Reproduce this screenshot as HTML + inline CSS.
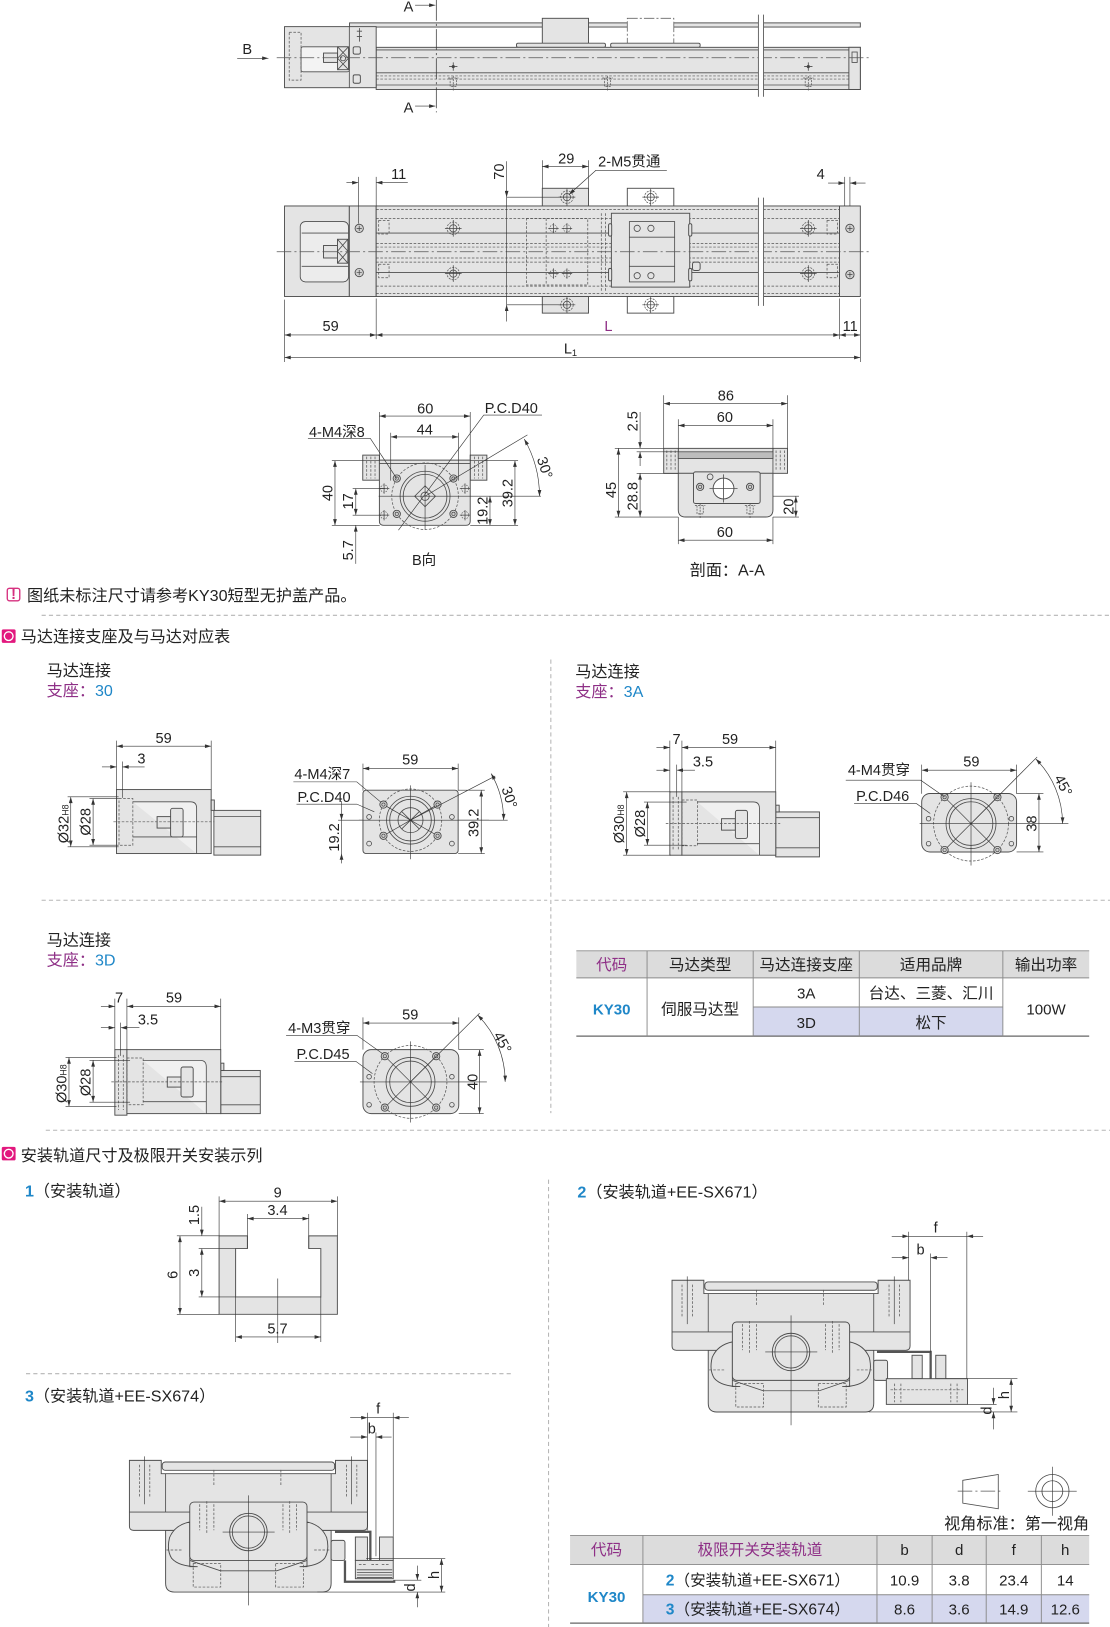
<!DOCTYPE html>
<html><head><meta charset="utf-8">
<style>
html,body{margin:0;padding:0;background:#fff}
svg{display:block}
text{font-family:"Liberation Sans","Noto Sans CJK SC",sans-serif;fill:#222;font-size:14px}
.cn{font-size:15.5px}
.pu{fill:#8e2f86}
.bl{fill:#1f87c8}
.b{font-weight:bold}
.g{fill:#e4e4e4;stroke:#4d4d4d;stroke-width:.9}
.w{fill:#fff;stroke:#4d4d4d;stroke-width:.9}
.n{fill:none;stroke:#4d4d4d;stroke-width:.8}
.ds{fill:none;stroke:#555;stroke-width:.7;stroke-dasharray:2.5 1.5}
.cl{fill:none;stroke:#555;stroke-width:.7;stroke-dasharray:14 3 2 3}
.dm{fill:none;stroke:#333;stroke-width:.6}
.da{fill:none;stroke:#333;stroke-width:.6;marker-start:url(#a);marker-end:url(#a)}
.de{fill:none;stroke:#333;stroke-width:.6;marker-end:url(#a)}
.sep{stroke:#b5b5b5;stroke-width:1;stroke-dasharray:4 3;fill:none}
</style></head><body>
<svg width="1110" height="1627" viewBox="0 0 1067 1564" preserveAspectRatio="none" xmlns="http://www.w3.org/2000/svg">
<defs>
<marker id="a" viewBox="0 0 10 6" refX="10" refY="3" markerWidth="8" markerHeight="3.6" orient="auto-start-reverse" markerUnits="userSpaceOnUse"><path d="M0,0L10,3L0,6z" fill="#333"/></marker>
<g id="ch"><circle r="6" fill="none" stroke="#555" stroke-width=".7" stroke-dasharray="2 1"/><circle r="3.5" fill="none" stroke="#444" stroke-width=".7"/><path d="M-8,0H8M0,-8V8" stroke="#444" stroke-width=".7"/></g>
<g id="sh"><circle r="3.5" fill="#cfcfcf" stroke="#444" stroke-width=".8"/><circle r="1.6" fill="none" stroke="#444" stroke-width=".6"/></g>
<g id="pm"><circle r="3.5" fill="none" stroke="#555" stroke-width=".6" stroke-dasharray="1.5 1"/><path d="M-5,0H5M0,-5V5" stroke="#444" stroke-width=".7"/></g>
<g id="tn"><path d="M-5,0H5M-3,0V8H3V0M0,-2V12" fill="none" stroke="#555" stroke-width=".7" stroke-dasharray="2 1"/></g>
<g id="sc"><circle r="4" fill="#d0d0d0" stroke="#444" stroke-width=".8"/><path d="M-2.5,0H2.5M0,-2.5V2.5" stroke="#444" stroke-width=".7"/></g>
</defs>

<!-- ================= VIEW 1 (side) ================= -->
<rect class="g" x="336" y="22" width="491" height="4"/>
<rect class="g" x="521.3" y="17.6" width="44.4" height="25.7"/>
<rect x="603" y="17.6" width="44.7" height="25.7" fill="#fff" stroke="#666" stroke-width=".8" stroke-dasharray="10 2 2 2"/>
<rect class="g" x="496.5" y="41.5" width="85.5" height="4" rx="1.5"/>
<rect class="g" x="587" y="41.5" width="86" height="4" rx="1.5"/>
<rect class="g" x="361.6" y="45.5" width="465.4" height="40.5"/>
<path class="n" d="M361.6,48H827M361.6,70H827M361.6,81.7H827"/>
<path class="ds" d="M361.6,73H827M361.6,76H827"/>
<rect class="g" x="273.5" y="25.6" width="88.1" height="58.7"/>
<path class="n" d="M335.8,25.6V84.3"/>
<rect class="ds" x="278" y="31" width="11.4" height="46"/>
<rect x="289.4" y="45" width="46.4" height="24" fill="#f3f3f3" stroke="#4d4d4d" stroke-width=".8" rx="2"/>
<rect class="g" x="311" y="51" width="13.5" height="9"/>
<rect class="g" x="324.5" y="45" width="10.5" height="22"/>
<path class="n" d="M324.5,45L335,56M335,45L324.5,56M324.5,56L335,67M335,56L324.5,67"/>
<circle class="n" cx="329.7" cy="56" r="2.5"/>
<rect class="g" x="339.5" y="45" width="6.9" height="7" rx="1.5"/>
<rect class="g" x="339.5" y="72" width="6.9" height="8" rx="1.5"/>
<path class="n" d="M345.5,27V40M343,30H348M343,35H348"/>
<rect class="g" x="816" y="45.5" width="11" height="40.5"/>
<rect class="n" x="819" y="50" width="5" height="10"/>
<path class="cl" d="M266,55.5H836"/>
<path class="n" d="M431.7,64H439.7M435.7,60V68M773,64H781M777,60V68"/>
<circle cx="435.7" cy="64" r="1.5" fill="#444"/><circle cx="777" cy="64" r="1.5" fill="#444"/>
<use href="#tn" x="435.7" y="75"/><use href="#tn" x="584" y="75"/><use href="#tn" x="777" y="75"/>
<rect x="729" y="14" width="5" height="79" fill="#fff"/>
<path class="n" d="M729,14V93M734,14V93"/>
<path d="M419.4,0V108" stroke="#333" stroke-width=".7" stroke-dasharray="20 3 2 3" fill="none"/>
<text x="388" y="11">A</text><path class="de" d="M399,5H418.5"/>
<text x="388" y="108">A</text><path class="de" d="M399,102H418.5"/>
<text x="233" y="52">B</text><path class="de" d="M228,56H258"/>

<!-- ================= VIEW 2 (top) ================= -->
<rect class="g" x="521.3" y="181" width="44.4" height="17"/>
<rect class="g" x="521.3" y="285" width="44.4" height="16"/>
<rect class="w" x="603" y="181" width="44.7" height="17"/>
<rect class="w" x="603" y="285" width="44.7" height="16"/>
<use href="#ch" x="545" y="189.5"/><use href="#ch" x="545" y="293"/>
<use href="#ch" x="625.5" y="189.5"/><use href="#ch" x="625.5" y="293"/>
<rect class="g" x="273.5" y="198" width="62.3" height="87"/>
<rect class="g" x="335.8" y="198" width="25.8" height="87"/>
<rect x="288.6" y="213" width="46.4" height="58" rx="5" fill="#ececec" stroke="#4d4d4d" stroke-width=".8"/>
<path class="n" d="M290,224H335M290,256H335"/>
<rect class="g" x="311" y="236" width="13.4" height="12"/>
<rect class="g" x="324.4" y="230" width="10" height="23"/>
<path class="n" d="M324.4,230L334.4,241.5M334.4,230L324.4,241.5M324.4,241.5L334.4,253M334.4,241.5L324.4,253"/>
<use href="#sc" x="345.3" y="219.5"/><use href="#sc" x="345.3" y="262"/>
<rect class="g" x="361.6" y="198" width="445.4" height="87"/>
<rect class="g" x="807" y="198" width="20" height="87"/>
<use href="#sc" x="817" y="219.5"/><use href="#sc" x="817" y="264"/>
<path class="ds" d="M361.6,201.5H807M361.6,210H807M361.6,234H807M361.6,237.5H807M361.6,248H807M361.6,252H807M361.6,275H807M361.6,282H807"/>
<path class="n" d="M361.6,224H807M361.6,262H807"/>
<rect class="ds" x="364" y="212" width="10" height="13"/><rect class="ds" x="364" y="254" width="10" height="13"/>
<rect class="ds" x="795" y="212" width="10" height="13"/><rect class="ds" x="795" y="254" width="10" height="13"/>
<rect class="ds" x="506" y="210" width="59" height="64"/>
<path class="ds" d="M578,205V280M582,205V280M525,210V274"/>
<use href="#pm" x="532" y="219.5"/><use href="#pm" x="532" y="263"/><use href="#pm" x="545" y="263"/><use href="#pm" x="545" y="219.5"/>
<rect class="g" x="587.7" y="205" width="75.3" height="71"/>
<rect class="n" x="605" y="213" width="43.5" height="58"/>
<path class="n" d="M605,228H648.5M605,256H648.5"/>
<circle class="n" cx="612.5" cy="219.5" r="3"/><circle class="n" cx="625.7" cy="219.5" r="3"/>
<circle class="n" cx="612.5" cy="265" r="3"/><circle class="n" cx="625.7" cy="265" r="3"/>
<rect class="g" x="665.7" y="252" width="7.3" height="8" rx="2"/>
<rect class="g" x="585" y="215" width="3" height="12" rx="1.5"/><rect class="g" x="585" y="258" width="3" height="12" rx="1.5"/>
<rect class="g" x="662" y="215" width="3" height="12" rx="1.5"/><rect class="g" x="662" y="258" width="3" height="12" rx="1.5"/>
<use href="#ch" x="435.7" y="219.5"/><use href="#ch" x="435.7" y="263"/>
<use href="#ch" x="777" y="219.5"/><use href="#ch" x="777" y="263"/>
<path class="cl" d="M266,242H836"/>
<rect x="729" y="190" width="5" height="104" fill="#fff"/>
<path class="n" d="M729,190V294M734,190V294"/>
<!-- dims view 2 -->
<path class="dm" d="M344.5,170V215M361.6,170V198"/>
<path class="de" d="M333,175.6H344.5"/><path class="de" d="M392,175.6H361.6"/>
<text x="376" y="172">11</text>
<path class="dm" d="M521.3,154V181M565.7,154V181"/>
<path class="da" d="M521.3,160H565.7"/>
<text x="536.5" y="157">29</text>
<text x="575" y="160">2-M5贯通</text>
<path class="dm" d="M572,164H641"/>
<path class="de" d="M572.5,164L547,187"/>
<path class="dm" d="M487,189.5H545M487,293H545M487,189.5V293"/>
<path class="de" d="M487,155V189.5"/><path class="de" d="M487,309V293"/>
<text transform="translate(484.5,165) rotate(-90)" text-anchor="middle">70</text>
<path class="dm" d="M812,170V198M817,170V198"/>
<path class="de" d="M796,176H812"/><path class="de" d="M832,176H817"/>
<text x="785" y="172">4</text>
<path class="dm" d="M273.5,288V348M361.6,287V326M807,287V326M827,287V348"/>
<path class="da" d="M273.5,322H361.6"/>
<text x="310" y="318">59</text>
<path class="da" d="M361.6,322H807"/>
<text x="581" y="318" class="pu">L</text>
<path class="da" d="M807,322H827"/>
<text x="810" y="318">11</text>
<path class="da" d="M273.5,343.6H827"/>
<text x="542" y="340">L<tspan font-size="9" dy="2">1</tspan></text>

<!-- ================= B view ================= -->
<rect class="g" x="348.7" y="437.5" width="16" height="24.1"/>
<path class="ds" d="M352.5,439V460M356.5,439V460M360.5,439V460"/>
<rect class="g" x="452" y="437.5" width="16" height="24.1"/>
<path class="ds" d="M456,439V460M460,439V460M464,439V460"/>
<path class="g" d="M364.7,442.3H452V501Q452,505 448,505H368.7Q364.7,505 364.7,501Z"/>
<path class="n" d="M364.7,445.5H452"/>
<circle class="ds" cx="408.6" cy="477" r="32"/>
<circle class="n" cx="408.6" cy="477" r="24"/>
<circle class="n" cx="408.6" cy="477" r="21"/>
<path class="n" d="M408.6,467L418.6,477L408.6,487L398.6,477Z"/>
<circle class="n" cx="408.6" cy="477" r="4"/>
<path class="dm" d="M364,477H520M408.6,447V509"/>
<use href="#sh" x="381.4" y="460"/><use href="#sh" x="435.9" y="460"/>
<use href="#sh" x="381.4" y="494"/><use href="#sh" x="435.9" y="494"/>
<use href="#pm" x="369.2" y="469.6"/><use href="#pm" x="447" y="469.6"/>
<use href="#pm" x="369.2" y="495.2"/><use href="#pm" x="447" y="495.2"/>
<path class="dm" d="M364.7,396V442M452,396V442M375.6,416V462M440.7,416V462"/>
<path class="da" d="M364.7,400H452"/><text x="401" y="397.5">60</text>
<path class="da" d="M375.6,420H440.7"/><text x="400.5" y="417.5">44</text>
<text x="297" y="420">4-M4深8</text>
<path class="dm" d="M296,421.5H356L381.4,460"/>
<text x="466" y="397">P.C.D40</text>
<path class="dm" d="M521,399H465L383,509.6"/>
<path class="dm" d="M319,442.8H365M319,505H365M339,469.6H370M339,495.2H370"/>
<path class="da" d="M322,442.8V505"/>
<text transform="translate(319.5,474) rotate(-90)" text-anchor="middle">40</text>
<path class="da" d="M342,469.6V495.2"/>
<text transform="translate(339.5,482) rotate(-90)" text-anchor="middle">17</text>
<path class="de" d="M342,542V505"/>
<text transform="translate(339.5,529) rotate(-90)" text-anchor="middle">5.7</text>
<path class="dm" d="M452,505H498"/>
<path class="da" d="M471,477V505"/>
<text transform="translate(468.5,491) rotate(-90)" text-anchor="middle">19.2</text>
<path class="dm" d="M452,442.8H498"/>
<path class="da" d="M495,442.8V505"/>
<text transform="translate(492.5,474) rotate(-90)" text-anchor="middle">39.2</text>
<path class="dm" d="M408.6,477L507,418"/>
<path class="da" d="M503.9,422A110,110 0 0 1 518.6,477"/>
<text transform="translate(516,441) rotate(72)">30°</text>
<text x="396" y="543">B向</text>

<!-- ================= A-A section ================= -->
<rect class="g" x="638" y="431" width="119" height="24"/>
<path class="ds" d="M641,433V453M645,433V453M649,433V453M746,433V453M750,433V453M754,433V453"/>
<path class="n" d="M652,431V455M743,431V455"/>
<rect x="652" y="434.3" width="91" height="6.5" fill="#bdbdbd" stroke="#4d4d4d" stroke-width=".8"/>
<path class="g" d="M652,455H743V490Q743,497 736,497H659Q652,497 652,490Z"/>
<rect class="g" x="666.6" y="453.6" width="64.1" height="30.4" rx="2"/>
<circle class="w" cx="695.5" cy="469.6" r="10"/>
<path class="n" d="M695.5,456V483M682,469.6H709"/>
<use href="#sh" x="673" y="468"/><use href="#sh" x="721" y="468"/>
<circle class="n" cx="682.6" cy="458.4" r="2.8"/>
<use href="#tn" x="673" y="486"/><use href="#tn" x="721" y="486"/>
<path class="dm" d="M638,380V431M757,380V431M652,403V434M743,403V434"/>
<path class="da" d="M638,388H757"/><text x="690" y="385">86</text>
<path class="da" d="M652,409H743"/><text x="689" y="405.5">60</text>
<path class="dm" d="M591,431H638M612,434.3H652M591,497H652M612,455H652M743,477H768M743,497H768"/>
<path class="de" d="M615.3,396V431"/><path class="de" d="M615.3,448V434.3"/>
<text transform="translate(613,405) rotate(-90)" text-anchor="middle">2.5</text>
<path class="da" d="M594.5,431V497"/>
<text transform="translate(592,471) rotate(-90)" text-anchor="middle">45</text>
<path class="da" d="M615.3,455V497"/>
<text transform="translate(613,477) rotate(-90)" text-anchor="middle">28.8</text>
<path class="da" d="M765,477V497"/>
<text transform="translate(763,487) rotate(-90)" text-anchor="middle">20</text>
<path class="dm" d="M652,497V523M743,497V523"/>
<path class="da" d="M652,519.3H743"/><text x="689" y="516">60</text>
<text x="663" y="553" class="cn">剖面：A-A</text>

<!-- note -->
<rect x="7" y="565.5" width="12" height="12" rx="2" fill="#fff" stroke="#d6307f" stroke-width="1.3"/>
<text x="13" y="576" text-anchor="middle" font-size="10" font-weight="bold" style="fill:#d6307f">!</text>
<text x="26" y="577.5" style="font-size:15.5px">图纸未标注尺寸请参考KY30短型无护盖产品。</text>
<path class="sep" d="M40,591.5H1067"/>

<!-- section header 1 -->
<rect x="1.7" y="605" width="13.3" height="13" rx="1.5" fill="#e2187e"/>
<circle cx="8.35" cy="611.5" r="4.2" fill="none" stroke="#fff" stroke-width="1.3"/>
<text x="20" y="617" class="cn">马达连接支座及与马达对应表</text>
<path class="sep" d="M529.5,634V1070"/>

<text x="44.8" y="650" class="cn">马达连接</text>
<text x="44.8" y="669" class="cn"><tspan class="pu">支座：</tspan><tspan class="bl">30</tspan></text>
<text x="553" y="651" class="cn">马达连接</text>
<text x="553" y="670" class="cn"><tspan class="pu">支座：</tspan><tspan class="bl">3A</tspan></text>

<!-- support 30 side -->
<rect class="g" x="205.6" y="779" width="45" height="43"/>
<path class="n" d="M205.6,785H250.6M205.6,814H250.6"/>
<rect class="g" x="112" y="759" width="91" height="61.5"/>
<rect class="ds" x="114.4" y="767.6" width="13.3" height="44.9"/>
<path d="M127.7,770.8H183Q189,770.8 189,776.8V820.5M189,804.5H127.7Z" fill="#f0f0f0" stroke="#4d4d4d" stroke-width=".8"/>
<rect class="g" x="151" y="785" width="15" height="11"/>
<rect class="g" x="164" y="777" width="12" height="27.5" rx="2"/>
<rect class="g" x="203" y="769" width="3" height="10"/>
<path class="ds" d="M109,790H206"/>
<path class="dm" d="M112,712V759M203,712V759M117.7,732V767"/>
<path class="da" d="M112,717.3H203"/><text x="149.5" y="714">59</text>
<path class="de" d="M98,737.2H112"/><path class="de" d="M139,737.2H117.7"/><text x="132" y="734">3</text>
<path class="dm" d="M65,766H114M65,814H114M86,767.6H114M86,812.5H114"/>
<path class="da" d="M68,766V814"/>
<text transform="translate(66,792) rotate(-90)" text-anchor="middle">Ø32<tspan font-size="8.5">H8</tspan></text>
<path class="da" d="M89.5,767.6V812.5"/>
<text transform="translate(87,790) rotate(-90)" text-anchor="middle">Ø28</text>

<!-- support 30 face -->
<rect class="g" x="348.9" y="759.6" width="91.5" height="60.9" rx="3"/>
<circle class="ds" cx="394.6" cy="788.4" r="30"/>
<circle class="n" cx="394.6" cy="788.4" r="23"/>
<circle class="n" cx="394.6" cy="788.4" r="20"/>
<circle class="n" cx="394.6" cy="788.4" r="12"/>
<path class="n" d="M386,780L403.2,797M403.2,780L386,797"/>
<path class="dm" d="M345,788.4H470M394.6,755V826M368.6,773.4L420.6,803.4M420.6,773.4L368.6,803.4"/>
<use href="#sh" x="368.6" y="773.4"/><use href="#sh" x="420.6" y="773.4"/>
<use href="#sh" x="368.6" y="803.4"/><use href="#sh" x="420.6" y="803.4"/>
<circle class="n" cx="354.8" cy="785.3" r="2.3"/><circle class="n" cx="434.4" cy="785.3" r="2.3"/>
<circle class="n" cx="354.8" cy="810.9" r="2.3"/><circle class="n" cx="434.4" cy="810.9" r="2.3"/>
<path class="dm" d="M348.9,734V760M440.4,734V760"/>
<path class="da" d="M348.9,738.8H440.4"/><text x="386.6" y="735">59</text>
<text x="283" y="749">4-M4深7</text>
<path class="dm" d="M282,751.6H343L366,771"/>
<text x="286" y="771">P.C.D40</text>
<path class="dm" d="M285,773H343L359.8,780.4"/>
<path class="dm" d="M325,788.4H349M440.4,759.6H466M440.4,820.5H466"/>
<path class="de" d="M328.3,770V788.4"/><path class="de" d="M328.3,830V820.5"/><path class="dm" d="M328.3,788.4V820.5"/>
<text transform="translate(326,805) rotate(-90)" text-anchor="middle">19.2</text>
<path class="da" d="M462.6,759.6V820.5"/>
<text transform="translate(460,791) rotate(-90)" text-anchor="middle">39.2</text>
<path class="dm" d="M394.6,788.4L476,746M440.4,788.4H488"/>
<path class="da" d="M472.1,743.6A89.5,89.5 0 0 1 484.1,788.4"/>
<text transform="translate(482,758) rotate(72)">30°</text>

<!-- support 3A side -->
<rect class="g" x="745.7" y="780.5" width="42" height="43.2"/>
<path class="n" d="M745.7,786H787.7M745.7,815H787.7"/>
<rect class="g" x="745.7" y="774" width="3.3" height="6.5"/>
<rect class="g" x="643.9" y="761.2" width="11.6" height="60.9"/>
<rect class="g" x="655.5" y="761.2" width="90.2" height="60.9"/>
<path class="ds" d="M647,766V818M652,766V818"/>
<rect class="ds" x="655.5" y="769" width="14.9" height="44"/>
<path d="M670.4,770.9H724Q730,770.9 730,776.9V822.1M730,811H670.4Z" fill="#f0f0f0" stroke="#4d4d4d" stroke-width=".8"/>
<rect class="g" x="693.6" y="787" width="13.3" height="11"/>
<rect class="g" x="706.9" y="779" width="11.6" height="27" rx="2"/>
<path class="ds" d="M640,791.7H750"/>
<path class="dm" d="M643.9,712V761M655.5,712V761M745.7,712V761M650.5,735V766"/>
<path class="de" d="M631,718.6H643.9"/><path class="da" d="M655.5,718.6H745.7"/>
<text x="646.5" y="715">7</text><text x="694" y="715">59</text>
<path class="de" d="M631,740.4H643.9"/><path class="de" d="M668,740.4H650.5"/>
<text x="666" y="737">3.5</text>
<path class="dm" d="M599,761.2H645M599,822.1H645M619,771H660M619,812.5H660"/>
<path class="da" d="M602.4,761.2V822.1"/>
<text transform="translate(600,792) rotate(-90)" text-anchor="middle">Ø30<tspan font-size="8.5">H8</tspan></text>
<path class="da" d="M622.3,771V812.5"/>
<text transform="translate(620,791.7) rotate(-90)" text-anchor="middle">Ø28</text>

<!-- support 3A face -->
<rect class="g" x="886" y="762.8" width="91.2" height="56.2" rx="8"/>
<circle class="ds" cx="933.4" cy="791.7" r="36"/>
<circle class="n" cx="933.4" cy="791.7" r="24"/>
<circle class="n" cx="933.4" cy="791.7" r="21"/>
<path class="dm" d="M908,766.3L958.8,817.1M958.8,766.3L908,817.1M884,791.7H1027M933.4,752V832"/>
<use href="#sh" x="908" y="766.3"/><use href="#sh" x="958.8" y="766.3"/>
<use href="#sh" x="908" y="817.1"/><use href="#sh" x="958.8" y="817.1"/>
<circle class="n" cx="892.6" cy="787" r="2.2"/><circle class="n" cx="972.2" cy="787" r="2.2"/>
<circle class="n" cx="892.6" cy="811" r="2.2"/><circle class="n" cx="972.2" cy="811" r="2.2"/>
<path class="dm" d="M886,735V763M977.2,735V763"/>
<path class="da" d="M886,740.4H977.2"/><text x="926" y="737">59</text>
<text x="815" y="745">4-M4贯穿</text>
<path class="dm" d="M813,750H885L908,766"/>
<text x="823" y="770">P.C.D46</text>
<path class="dm" d="M821,772.5H881L894.2,782"/>
<path class="dm" d="M977.2,762.8H1003M977.2,819H1003"/>
<path class="da" d="M998.7,762.8V819"/>
<text transform="translate(996.5,791.7) rotate(-90)" text-anchor="middle">38</text>
<path class="dm" d="M933.4,791.7L997,727.6"/>
<path class="da" d="M995.6,729.5A88,88 0 0 1 1021.4,791.7"/>
<text transform="translate(1013,748) rotate(62)">45°</text>

<path class="sep" d="M40,865.4H526M533,865.4H1067"/>

<!-- support 3D -->
<text x="44.8" y="909" class="cn">马达连接</text>
<text x="44.8" y="928" class="cn"><tspan class="pu">支座：</tspan><tspan class="bl">3D</tspan></text>
<rect class="g" x="212.2" y="1029" width="38" height="41.5"/>
<path class="n" d="M212.2,1035H250.2M212.2,1062H250.2"/>
<rect class="g" x="212.2" y="1022" width="3" height="7"/>
<rect class="g" x="110.4" y="1009" width="11.6" height="63"/>
<rect class="g" x="122" y="1009" width="90.2" height="61.5"/>
<path class="ds" d="M114,1014V1067M118.5,1014V1067"/>
<rect class="ds" x="122" y="1017" width="15.6" height="45"/>
<path d="M137.6,1019.3H192.3Q198.3,1019.3 198.3,1025.3V1070.5M198.3,1059H137.6Z" fill="#f0f0f0" stroke="#4d4d4d" stroke-width=".8"/>
<rect class="g" x="160.8" y="1035.3" width="13.2" height="9.7"/>
<rect class="g" x="174" y="1025.7" width="11.7" height="28.8" rx="2"/>
<path class="ds" d="M107,1040H215"/>
<path class="dm" d="M110.4,960V1009M122,960V1009M212.2,960V1009M116,983V1015"/>
<path class="de" d="M97,967.4H110.4"/><path class="da" d="M122,967.4H212.2"/>
<text x="110.5" y="963.5">7</text><text x="159.5" y="963.5">59</text>
<path class="de" d="M97,987.9H110.4"/><path class="de" d="M134,987.9H116"/>
<text x="132.5" y="984.6">3.5</text>
<path class="dm" d="M63,1016.5H112M63,1063.5H112M86,1019.3H125M86,1059.5H125"/>
<path class="da" d="M66.3,1016.5V1063.5"/>
<text transform="translate(64,1041.7) rotate(-90)" text-anchor="middle">Ø30<tspan font-size="8.5">H8</tspan></text>
<path class="da" d="M89.5,1019.3V1059.5"/>
<text transform="translate(87,1040.5) rotate(-90)" text-anchor="middle">Ø28</text>

<rect class="g" x="348.9" y="1009" width="92.1" height="61.5" rx="8"/>
<circle class="ds" cx="394.6" cy="1040" r="35"/>
<circle class="n" cx="394.6" cy="1040" r="23.5"/>
<circle class="n" cx="394.6" cy="1040" r="20"/>
<path class="dm" d="M369.9,1015.3L419.3,1064.7M419.3,1015.3L369.9,1064.7M346,1040H468M394.6,1001V1079"/>
<use href="#sh" x="369.9" y="1015.3"/><use href="#sh" x="419.3" y="1015.3"/>
<use href="#sh" x="369.9" y="1064.7"/><use href="#sh" x="419.3" y="1064.7"/>
<circle class="n" cx="354.8" cy="1035" r="2.2"/><circle class="n" cx="434.4" cy="1035" r="2.2"/>
<circle class="n" cx="354.8" cy="1062" r="2.2"/><circle class="n" cx="434.4" cy="1062" r="2.2"/>
<path class="dm" d="M348.9,978V1009M441,978V1009"/>
<path class="da" d="M348.9,983.4H441"/><text x="386.6" y="980">59</text>
<text x="277" y="993">4-M3贯穿</text>
<path class="dm" d="M275,995.2H343L368,1013"/>
<text x="285" y="1018">P.C.D45</text>
<path class="dm" d="M283,1020.2H342L358,1032"/>
<path class="dm" d="M441,1009H465M441,1070.5H465"/>
<path class="da" d="M461,1009V1070.5"/>
<text transform="translate(459,1040) rotate(-90)" text-anchor="middle">40</text>
<path class="dm" d="M394.6,1040L461,974"/>
<path class="da" d="M459,975.6A91,91 0 0 1 485.6,1040"/>
<text transform="translate(474,995) rotate(62)">45°</text>

<!-- table 1 -->
<rect x="554" y="914" width="493" height="26" fill="#dcdcdc"/>
<rect x="724" y="968" width="240" height="28" fill="#d5d8ee"/>
<path d="M554,914H1047M554,940H1047M724,968H964" stroke="#8a8a8a" stroke-width=".9" fill="none"/>
<path d="M554,996H1047" stroke="#666" stroke-width="1.2"/>
<path d="M622,914V996M724,914V996M826,914V996M964,914V996" stroke="#8a8a8a" stroke-width=".9"/>
<g text-anchor="middle">
<text x="588" y="932.5" class="pu" style="font-size:15px">代码</text>
<text x="673" y="932.5" style="font-size:15px">马达类型</text>
<text x="775" y="932.5" style="font-size:15px">马达连接支座</text>
<text x="895" y="932.5" style="font-size:15px">适用品牌</text>
<text x="1005.5" y="932.5" style="font-size:15px">输出功率</text>
<text x="588" y="975" class="bl b" style="font-size:14.5px">KY30</text>
<text x="673" y="975" style="font-size:15px">伺服马达型</text>
<text x="775" y="960" style="font-size:14.5px">3A</text>
<text x="895" y="960" style="font-size:15px">台达、三菱、汇川</text>
<text x="775" y="988" style="font-size:14.5px">3D</text>
<text x="895" y="988" style="font-size:15px">松下</text>
<text x="1005.5" y="975" style="font-size:14.5px">100W</text>
</g>

<path class="sep" d="M44,1086.5H1067"/>
<rect x="1.7" y="1102.5" width="13.3" height="13" rx="1.5" fill="#e2187e"/>
<circle cx="8.35" cy="1109" r="4.2" fill="none" stroke="#fff" stroke-width="1.3"/>
<text x="20" y="1116" class="cn">安装轨道尺寸及极限开关安装示列</text>
<path class="sep" d="M527.3,1134V1564"/>

<text x="24" y="1150" class="cn"><tspan class="bl b">1</tspan>（安装轨道）</text>
<text x="555" y="1151" class="cn"><tspan class="bl b">2</tspan>（安装轨道+EE-SX671）</text>

<!-- rail profile -->
<path class="g" d="M210.6,1188H237.8V1200.2H226.5V1246.7H308.4V1200.2H296.8V1188H324.3V1263.4H210.6Z"/>
<path class="dm" d="M267,1229V1291"/>
<path class="dm" d="M210.6,1150V1188M324.3,1150V1188M237.8,1167V1200M296.8,1167V1200"/>
<path class="da" d="M210.6,1154.7H324.3"/><text x="263" y="1151">9</text>
<path class="da" d="M237.8,1171.4H296.8"/><text x="257" y="1168">3.4</text>
<path class="dm" d="M170,1188H210.6M191,1200.2H226.5M191,1246.7H226.5M170,1263.4H210.6"/>
<path class="de" d="M194,1160V1188"/><path class="da" d="M194,1200.2V1246.7"/>
<text transform="translate(191.5,1168) rotate(-90)" text-anchor="middle">1.5</text>
<text transform="translate(191.5,1223.5) rotate(-90)" text-anchor="middle">3</text>
<path class="da" d="M173,1188V1263.4"/>
<text transform="translate(170.5,1225.5) rotate(-90)" text-anchor="middle">6</text>
<path class="dm" d="M226.5,1246.7V1290M308.4,1246.7V1290"/>
<path class="da" d="M226.5,1285.2H308.4"/><text x="257" y="1282">5.7</text>

<path class="sep" d="M25,1320.5H492"/>
<text x="24" y="1347" class="cn"><tspan class="bl b">3</tspan>（安装轨道+EE-SX674）</text>

<!-- carriage assembly (drawing 3) -->
<g id="carr">
<path class="g" d="M159.2,1471H318.3V1522Q318.3,1530.4 310,1530.4H167.5Q159.2,1530.4 159.2,1522Z"/>
<path class="g" d="M124.4,1403.8H155V1416.6H322.5V1403.8H353.2V1467Q353.2,1471.1 349,1471.1H128.5Q124.4,1471.1 124.4,1467Z"/>
<path class="n" d="M159.2,1416.6V1453.5H182.4M318.3,1416.6V1453.5H295.1M124.4,1453.5H159.2M318.3,1453.5H353.2"/>
<rect class="g" x="155.9" y="1405.4" width="165.8" height="8" rx="3"/>
<path class="ds" d="M134,1408V1440M144,1408V1440M333,1408V1440M343,1408V1440M205.6,1413V1429M270,1413V1429"/>
<path class="dm" d="M139,1400V1446M338,1400V1446"/>
<path class="g" d="M182.4,1463Q168,1466 163,1478Q160,1490 165,1498Q172,1506 190,1506H182.4Z"/>
<path class="g" d="M295.1,1463Q309,1466 314,1478Q317,1490 312,1498Q305,1506 288,1506H295.1Z"/>
<rect class="g" x="182.4" y="1443.9" width="112.7" height="56.1" rx="4"/>
<path class="n" d="M182.4,1500L212,1510H266L295.1,1500"/>
<path class="ds" d="M192,1446V1471M205.6,1446V1471M272,1446V1471M285,1446V1471M198.8,1443V1475M278.5,1443V1475"/>
<rect class="ds" x="185.7" y="1503" width="26.5" height="22.6"/>
<rect class="ds" x="265" y="1503" width="26.8" height="22.6"/>
<circle class="g" cx="238.8" cy="1472.7" r="18"/>
<circle class="n" cx="238.8" cy="1472.7" r="15.5"/>
<path class="dm" d="M238.8,1437.5V1543.2M214,1472.7H264"/>
<path class="ds" d="M160,1490H176M302,1490H318"/>
</g>
<!-- sensor drawing 3 -->
<rect class="g" x="318.3" y="1480.7" width="13.3" height="19.3" rx="2"/>
<path d="M322,1472.5H356V1500" fill="none" stroke="#555" stroke-width="2.2"/>
<path d="M331.6,1500V1520.5H380" fill="none" stroke="#555" stroke-width="2.2"/>
<rect class="g" x="341.6" y="1477.5" width="11.6" height="22.5"/>
<rect class="g" x="364.8" y="1477.5" width="13.2" height="22.5"/>
<rect class="g" x="341.6" y="1500" width="36.4" height="17.6"/>
<path class="n" d="M343,1509H377M343,1511.5H377M343,1514H377M343,1516.5H377"/>
<path class="ds" d="M345,1504H353M357,1504H365M367,1504H375"/>
<path class="dm" d="M353.2,1358V1471M378,1358V1477M361.4,1377V1496"/>
<path class="de" d="M336.6,1362.8H353.2"/><path class="de" d="M393,1362.8H378"/><path class="dm" d="M353.2,1362.8H378"/>
<text x="361.5" y="1359">f</text>
<path class="de" d="M336.6,1381.4H353.2"/><path class="de" d="M376.4,1381.4H361.4"/>
<text x="353.5" y="1378">b</text>
<path class="dm" d="M352,1498.3H428M305,1530.4H428M378,1519H405"/>
<path class="da" d="M424.4,1498.3V1530.4"/>
<text transform="translate(422,1514) rotate(-90)" text-anchor="middle">h</text>
<path class="de" d="M401.2,1505V1519"/><path class="de" d="M401.2,1545V1530.4"/>
<text transform="translate(399,1526) rotate(-90)" text-anchor="middle">d</text>

<!-- drawing 2 -->
<use href="#carr" transform="translate(521.6,-173.1)"/>
<rect class="g" x="839.9" y="1307.6" width="13.3" height="19.3" rx="2"/>
<path d="M843,1299.5H894.6V1326" fill="none" stroke="#555" stroke-width="2.2"/>
<rect class="g" x="876.7" y="1302.8" width="9.8" height="22.5"/>
<rect class="g" x="899.5" y="1302.8" width="9.7" height="22.5"/>
<rect class="g" x="852" y="1325.3" width="78" height="24.7"/>
<path class="ds" d="M860,1330V1348M866,1330V1348M914,1330V1348M920,1330V1348M856,1336H926"/>
<path class="dm" d="M873.5,1184V1230.7M929.4,1184V1325.3M894.6,1205V1300"/>
<path class="de" d="M857.2,1188.4H873.5"/><path class="de" d="M945,1188.4H929.4"/><path class="dm" d="M873.5,1188.4H929.4"/>
<text x="897.5" y="1185">f</text>
<path class="de" d="M857.2,1209H873.5"/><path class="de" d="M910.8,1209H894.6"/>
<text x="881" y="1206">b</text>
<path class="dm" d="M909,1325.3H978M835,1357.3H978M930,1350H958"/>
<path class="da" d="M972,1325.3V1357.3"/>
<text transform="translate(970,1341) rotate(-90)" text-anchor="middle">h</text>
<path class="de" d="M955,1334V1350"/><path class="de" d="M955,1374V1357.3"/>
<text transform="translate(953,1356) rotate(-90)" text-anchor="middle">d</text>

<!-- view standard -->
<path class="n" d="M925.5,1423L959.6,1417.4V1450.4L925.5,1445Z"/>
<path class="cl" d="M920.6,1433.4H964.5"/>
<circle class="n" cx="1011.6" cy="1433.4" r="16"/>
<circle class="n" cx="1011.6" cy="1433.4" r="10"/>
<path class="dm" d="M988,1433.4H1035M1011.6,1410V1457"/>
<text x="907.6" y="1470" class="cn">视角标准：第一视角</text>

<!-- table 2 -->
<rect x="548" y="1476" width="499" height="28" fill="#dcdcdc"/>
<rect x="618" y="1533" width="429" height="27" fill="#d5d8ee"/>
<path d="M548,1476H1047M548,1504H1047M618,1533H1047" stroke="#8a8a8a" stroke-width=".9" fill="none"/>
<path d="M548,1560.3H1047" stroke="#666" stroke-width="1.2"/>
<path d="M618,1476V1560M843,1476V1560M896,1476V1560M948,1476V1560M1001,1476V1560" stroke="#8a8a8a" stroke-width=".9"/>
<g text-anchor="middle">
<text x="583" y="1495" class="pu" style="font-size:15px">代码</text>
<text x="730.5" y="1495" class="pu" style="font-size:15px">极限开关安装轨道</text>
<text x="869.5" y="1495" style="font-size:14.5px">b</text>
<text x="922" y="1495" style="font-size:14.5px">d</text>
<text x="974.5" y="1495" style="font-size:14.5px">f</text>
<text x="1024" y="1495" style="font-size:14.5px">h</text>
<text x="583" y="1540" class="bl b" style="font-size:14.5px">KY30</text>
<text x="869.5" y="1524" style="font-size:14.5px">10.9</text>
<text x="922" y="1524" style="font-size:14.5px">3.8</text>
<text x="974.5" y="1524" style="font-size:14.5px">23.4</text>
<text x="1024" y="1524" style="font-size:14.5px">14</text>
<text x="869.5" y="1552" style="font-size:14.5px">8.6</text>
<text x="922" y="1552" style="font-size:14.5px">3.6</text>
<text x="974.5" y="1552" style="font-size:14.5px">14.9</text>
<text x="1024" y="1552" style="font-size:14.5px">12.6</text>
</g>
<text x="640" y="1524" style="font-size:15px"><tspan class="bl b">2</tspan>（安装轨道+EE-SX671）</text>
<text x="640" y="1552" style="font-size:15px"><tspan class="bl b">3</tspan>（安装轨道+EE-SX674）</text>
</svg>
</body></html>
